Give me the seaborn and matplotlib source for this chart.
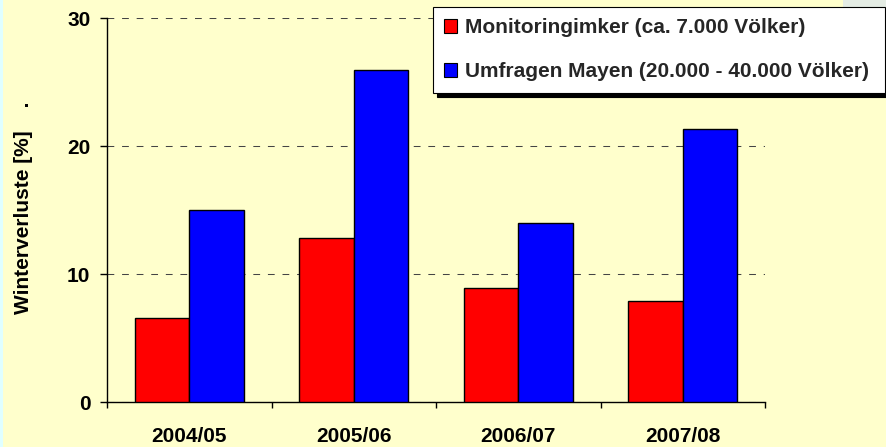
import pandas as pd
import matplotlib
matplotlib.use('Agg')
import matplotlib.pyplot as plt
from matplotlib.patches import Rectangle
from matplotlib.ticker import FixedLocator
import seaborn as sns

# Werte
winter = ['2004/05', '2005/06', '2006/07', '2007/08']
monitoring = [6.6, 12.8, 8.9, 7.9]
umfragen = [15.0, 25.9, 14.0, 21.3]
gruppen = ['Monitoringimker (ca. 7.000 Völker)',
           'Umfragen Mayen (20.000 - 40.000 Völker)']
farben = ['#FF0000', '#0000FF']

df = pd.DataFrame({
    'Winter': winter * 2,
    'Verlust': monitoring + umfragen,
    'Gruppe': [gruppen[0]] * len(winter) + [gruppen[1]] * len(winter),
})

sns.set_style('white')
plt.rcParams['font.family'] = ['Liberation Sans', 'DejaVu Sans']
plt.rcParams['font.weight'] = 'bold'

bg = '#FFFFCC'
fig = plt.figure(figsize=(8.86, 4.47), dpi=100, facecolor=bg)
ax = fig.add_axes([107 / 886, 1 - 402 / 447, 658 / 886, 384 / 447])
ax.set_facecolor(bg)

# Randstreifen links und Deko oben rechts
fig.patches.append(Rectangle((0, 0), 3 / 886, 1, transform=fig.transFigure,
                             facecolor='#E0FFFF', edgecolor='none', zorder=0))
fig.patches.append(Rectangle((843 / 886, 1 - 10 / 447), 43 / 886, 10 / 447,
                             transform=fig.transFigure, facecolor='#E4ECE4',
                             edgecolor='none', zorder=0))

sns.barplot(data=df, x='Winter', y='Verlust', hue='Gruppe', hue_order=gruppen,
            palette=farben, saturation=1, width=0.66, edgecolor='black',
            linewidth=1, ax=ax, zorder=3)

ax.set_ylim(0, 30)
ax.set_xlim(-0.5, len(winter) - 0.5)
ax.set_yticks([0, 10, 20, 30])
ax.yaxis.grid(True, color='#444444', linestyle=(0, (6.5, 7.5)), linewidth=0.75, zorder=1)
ax.xaxis.grid(False)
ax.set_axisbelow(True)

for s in ['top', 'right']:
    ax.spines[s].set_visible(False)
for s in ['left', 'bottom']:
    ax.spines[s].set_color('black')
    ax.spines[s].set_linewidth(1)

ax.tick_params(axis='y', direction='out', length=5, width=1, pad=7,
               labelsize=15, left=True, colors='black')
ax.tick_params(axis='x', which='major', length=0, pad=18, labelsize=15, colors='black')
ax.xaxis.set_minor_locator(FixedLocator([i - 0.5 for i in range(len(winter) + 1)]))
ax.tick_params(axis='x', which='minor', direction='out', length=4.5, width=1,
               bottom=True, color='black')
for t in ax.get_xticklabels() + ax.get_yticklabels():
    t.set_fontweight('bold')

ax.set_xlabel('')
ax.set_ylabel('Winterverluste [%]    .', fontsize=15, fontweight='bold', color='black')
ax.yaxis.set_label_coords(-0.112, 0.506)

handles, labels = ax.get_legend_handles_labels()
ax.get_legend().remove()
leg = fig.legend(handles, labels, loc='upper left',
                 bbox_to_anchor=(433 / 886, 0, 452 / 886, 1 - 7 / 447), mode='expand',
                 bbox_transform=fig.transFigure, frameon=True, fancybox=False,
                 facecolor='white', edgecolor='black', framealpha=1,
                 shadow={'ox': 3, 'oy': -3, 'facecolor': 'black', 'edgecolor': 'black', 'alpha': 1},
                 prop={'size': 15, 'weight': 'bold'}, handlelength=0.6,
                 handleheight=0.6, handletextpad=0.38, labelspacing=1.2,
                 borderpad=0.55, borderaxespad=0)
leg.get_frame().set_linewidth(0.8)
for h in leg.legend_handles:
    h.set_edgecolor('black')
    h.set_linewidth(0.8)

fig.savefig('out.png', dpi=100, facecolor=bg)
